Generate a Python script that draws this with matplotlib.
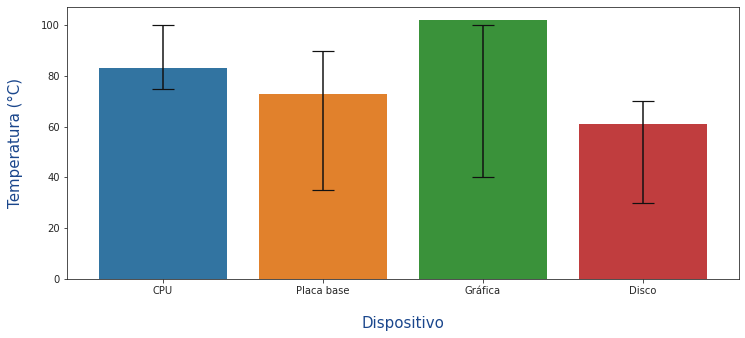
import matplotlib

matplotlib.use("Agg")
import matplotlib.pyplot as plt

dispositivos = ["CPU", "Placa base", "Gráfica", "Disco"]
temp_media = [83, 73, 102, 61]
temp_min = [75, 35, 40, 30]
temp_max = [100, 90, 100, 70]
colores = ["#3274a1", "#e1812c", "#3a923a", "#c03d3e"]

LABEL_COLOR = "#1a468c"
EDGE = "#262626"

fig, ax = plt.subplots(figsize=(745 / 72, 338 / 72), dpi=72)
fig.subplots_adjust(left=0.0900, right=0.992, top=0.979, bottom=0.1746)

x = range(len(dispositivos))
ax.bar(x, temp_media, width=0.8, color=colores)

# rango mínimo-máximo: la barra de error va centrada en el punto medio del rango
centro = [(lo + hi) / 2 for lo, hi in zip(temp_min, temp_max)]
semi = [(hi - lo) / 2 for lo, hi in zip(temp_min, temp_max)]
ax.errorbar(x, centro, yerr=semi, fmt="none",
            ecolor="#111111", elinewidth=1.5, capsize=11, capthick=1.2)

ax.set_xticks(list(x))
ax.set_xticklabels(dispositivos)
ax.set_xlim(-0.6, 3.6)
ax.set_ylim(0, 107.1)
ax.set_yticks([0, 20, 40, 60, 80, 100])

for s in ax.spines.values():
    s.set_color(EDGE)
ax.tick_params(colors=EDGE, labelsize=10)

ax.set_ylabel("Temperatura (°C)", fontsize=15, color=LABEL_COLOR)
ax.yaxis.set_label_coords(-0.066, 0.5)
ax.set_xlabel("Dispositivo", fontsize=15, color=LABEL_COLOR)
ax.xaxis.set_label_coords(0.5, -0.137)

fig.savefig("out.png", dpi=72)
